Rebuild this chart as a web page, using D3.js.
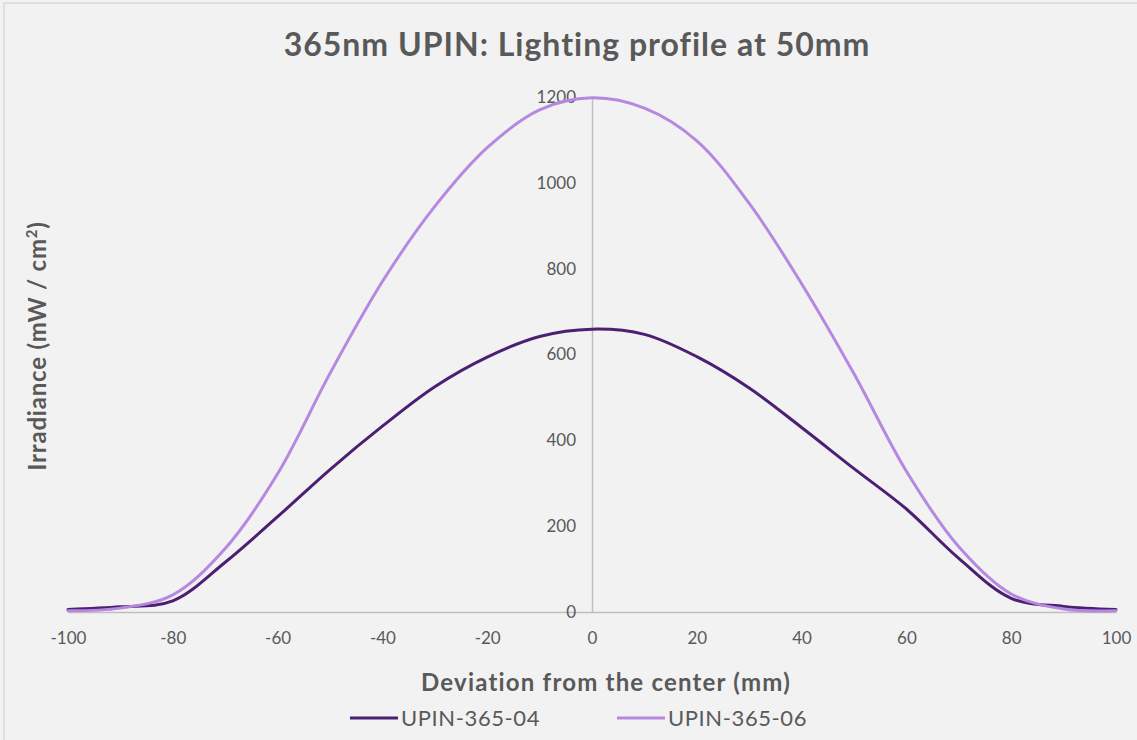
<!DOCTYPE html>
<html>
<head>
<meta charset="utf-8">
<script src="https://cdn.jsdelivr.net/npm/d3@7"></script>
<style>
  body { margin: 0; background: #f2f2f2; }
  svg { display: block; }
  text { font-family: Lato, "Open Sans", sans-serif; fill: #595959; }
</style>
</head>
<body>
<div id="chart"></div>
<script>
// deviation from center (mm)
const positions = [-100, -90, -80, -70, -60, -50, -40, -30, -20, -10, 0, 10, 20, 30, 40, 50, 60, 70, 80, 90, 100];
// irradiance (mW/cm2)
const upin04 = [6, 12, 26, 116, 222, 332, 433, 525, 594, 642, 659, 647, 595, 522, 430, 334, 240, 125, 32, 13, 6];
const upin06 = [3, 9, 40, 148, 322, 556, 770, 945, 1082, 1170, 1198, 1174, 1098, 952, 765, 555, 328, 152, 42, 7, 3];
const seriesNames = ['UPIN-365-04', 'UPIN-365-06'];
const seriesColors = ['#4c1f72', '#b788e0'];
const xTicks = [-100, -80, -60, -40, -20, 0, 20, 40, 60, 80, 100];
const yTicks = [0, 200, 400, 600, 800, 1000, 1200];

const width = 1137, height = 740;

const svg = d3.select('#chart')
  .append('svg')
  .attr('width', width)
  .attr('height', height);

// chart frame
svg.append('rect')
  .attr('x', 4).attr('y', 3)
  .attr('width', width + 10).attr('height', height + 10)
  .attr('fill', '#f2f2f2')
  .attr('stroke', '#d9d9d9')
  .attr('stroke-width', 1.5);

const x = d3.scaleLinear().domain([-100, 100]).range([68, 1116]);
const y = d3.scaleLinear().domain([0, 1200]).range([612, 97]);
const plain = d => String(d);

// x axis along y=0
const xAxis = svg.append('g')
  .attr('transform', `translate(0,${y(0)})`)
  .call(d3.axisBottom(x).tickValues(xTicks).tickFormat(plain).tickSize(0).tickPadding(20));
xAxis.select('.domain').attr('stroke', '#bfbfbf').attr('stroke-width', 1.5);
xAxis.selectAll('text').style('font-size', '17px').attr('fill', '#595959');

// y axis crossing at x=0
const yAxis = svg.append('g')
  .attr('transform', `translate(${x(0)},0)`)
  .call(d3.axisLeft(y).tickValues(yTicks).tickFormat(plain).tickSize(0).tickPadding(16));
yAxis.select('.domain').attr('stroke', '#bfbfbf').attr('stroke-width', 1.5);
yAxis.selectAll('text').style('font-size', '17px').attr('fill', '#595959');

const line = d3.line()
  .x(d => x(d[0]))
  .y(d => y(d[1]))
  .curve(d3.curveCatmullRom.alpha(0.5));

[upin04, upin06].forEach((vals, i) => {
  svg.append('path')
    .datum(positions.map((p, j) => [p, vals[j]]))
    .attr('fill', 'none')
    .attr('stroke', seriesColors[i])
    .attr('stroke-width', 3)
    .attr('stroke-linecap', 'round')
    .attr('d', line);
});

// title
svg.append('text')
  .attr('x', 577).attr('y', 56)
  .attr('text-anchor', 'middle')
  .style('font-size', '32px')
  .style('font-weight', 'bold')
  .style('letter-spacing', '1px')
  .text('365nm UPIN: Lighting profile at 50mm');

// axis titles
svg.append('text')
  .attr('x', 606).attr('y', 691)
  .attr('text-anchor', 'middle')
  .style('font-size', '24px')
  .style('font-weight', 'bold')
  .style('letter-spacing', '1.2px')
  .text('Deviation from the center (mm)');

const yTitle = svg.append('text')
  .attr('transform', 'translate(46,346) rotate(-90)')
  .attr('text-anchor', 'middle')
  .style('font-size', '24px')
  .style('font-weight', 'bold')
  .style('letter-spacing', '0.8px');
yTitle.append('tspan').text('Irradiance (mW / cm');
yTitle.append('tspan').attr('dy', -9).style('font-size', '15px').text('2');
yTitle.append('tspan').attr('dy', 9).text(')');

// legend
const legendX = [350, 617];
seriesNames.forEach((name, i) => {
  const g = svg.append('g').attr('transform', `translate(${legendX[i]},718)`);
  g.append('line')
    .attr('x1', 0).attr('x2', 48)
    .attr('stroke', seriesColors[i])
    .attr('stroke-width', 3);
  g.append('text')
    .attr('x', 51).attr('y', 8)
    .style('font-size', '22px')
    .style('letter-spacing', '0.6px')
    .text(name);
});
</script>
</body>
</html>
